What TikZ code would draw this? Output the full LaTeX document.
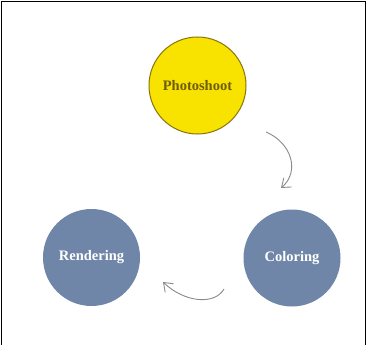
\documentclass[tikz,border=0pt]{standalone}
\usepackage{fontspec}
\setmainfont{Liberation Serif}
\usetikzlibrary{arrows.meta}
\definecolor{ylw}{HTML}{F7E200}
\definecolor{ylwedge}{HTML}{8A7410}
\definecolor{ylwtext}{HTML}{6E5C08}
\definecolor{steel}{HTML}{7086A9}
\definecolor{arrowgray}{HTML}{8A8A8A}
\begin{document}
\begin{tikzpicture}[x=1pt,y=-1pt,
  stage/.style={circle, minimum size=97pt, inner sep=0pt, font=\fontsize{14.5}{17}\selectfont\bfseries},
  yellowstage/.style={stage, fill=ylw, draw=ylwedge, line width=1pt, text=ylwtext},
  bluestage/.style={stage, fill=steel, text=white},
  flow/.style={draw=arrowgray, line width=0.9pt, -{Straight Barb[length=8pt,width=12pt]}}]
\useasboundingbox (0,0) rectangle (367,345);
\fill[white] (0,0) rectangle (367,345);
\draw[line width=1.6pt] (1.5,345) -- (1.5,1.5) -- (365.5,1.5) -- (365.5,345);
\node[yellowstage] (photo) at (197.5,85.5) {Photoshoot};
\node[bluestage] (render) at (91.5,257.5) {Rendering};
\node[bluestage] (color) at (292,258) {Coloring};
\coordinate (a1s) at (266,132);
\coordinate (a1e) at (281,188);
\coordinate (a2s) at (224,289);
\coordinate (a2e) at (163,282);
\draw[flow] (a1s) .. controls (292,143) and (300,172) .. (a1e);
\draw[flow] (a2s) .. controls (215,305) and (185,303) .. (a2e);
\end{tikzpicture}
\end{document}
